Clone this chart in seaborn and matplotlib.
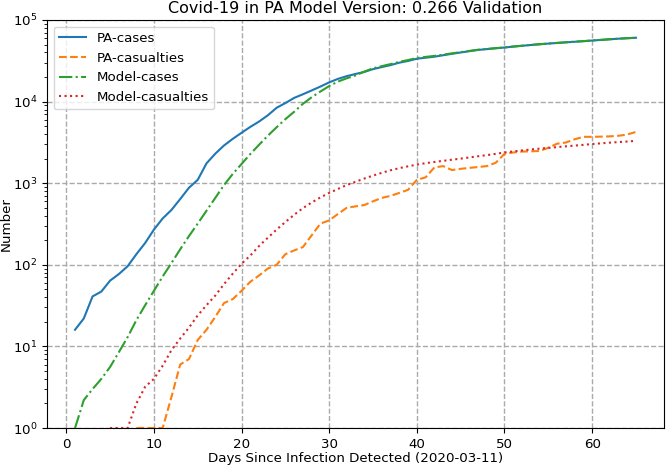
import matplotlib
matplotlib.use("Agg")
import matplotlib.pyplot as plt
import seaborn as sns
import pandas as pd

# PA reported cases, days 1..65
pa_cases_days = list(range(1, 66))
pa_cases = [
    16, 22, 41, 47, 64, 77, 96, 135, 185, 270,
    370, 470, 640, 880, 1100, 1750, 2300, 2900, 3500, 4150,
    4900, 5700, 6800, 8400, 9600, 11100, 12300, 13700, 15300, 17200,
    19000, 20500, 21800, 23100, 25000, 26500, 28000, 30000, 31500, 33500,
    34500, 35500, 37000, 38500, 40000, 41500, 43000, 44000, 45000, 46000,
    47200, 48300, 49400, 50400, 51400, 52300, 53200, 54100, 55000, 56000,
    57000, 58000, 59000, 59800, 60600,
]

# PA reported casualties, days 8..65
pa_deaths_days = list(range(8, 66))
pa_deaths = [
    1, 1, 1, 1, 2.4, 6, 7, 12, 16, 23,
    34, 38, 48, 62, 74, 90, 100, 135, 150, 165,
    230, 320, 350, 420, 500, 520, 540, 600, 660, 700,
    760, 830, 1100, 1180, 1560, 1620, 1450, 1500, 1540, 1580,
    1620, 1780, 2290, 2380, 2440, 2460, 2480, 2720, 3050, 3150,
    3450, 3700, 3700, 3720, 3750, 3810, 3950, 4250,
]

# model cases, days 1..65
model_cases_days = list(range(1, 66))
model_cases = [
    1, 2.2, 3.0, 4.0, 5.6, 8.5, 13, 21, 32, 48,
    72, 105, 155, 225, 320, 460, 660, 950, 1300, 1720,
    2280, 2960, 3820, 4850, 6100, 7500, 9400, 11300, 13300, 15500,
    17600, 19300, 20900, 23300, 25600, 27200, 28800, 30700, 32300, 34200,
    35300, 36300, 37600, 39000, 40400, 41800, 43200, 44200, 45200, 46100,
    47300, 48400, 49500, 50500, 51500, 52400, 53300, 54200, 55100, 56100,
    57100, 58100, 59000, 59800, 60600,
]

# model casualties, days 5..65
model_deaths_days = list(range(5, 66))
model_deaths = [
    1, 1, 1, 2, 3.2, 4, 5.8, 9, 12.5, 17,
    24, 32, 42, 58, 78, 103, 130, 170, 215, 270,
    335, 410, 495, 580, 670, 760, 850, 950, 1040, 1140,
    1240, 1340, 1440, 1530, 1610, 1690, 1760, 1820, 1880, 1940,
    2000, 2070, 2140, 2210, 2290, 2380, 2450, 2520, 2590, 2650,
    2710, 2770, 2830, 2890, 2950, 3020, 3080, 3140, 3190, 3240,
    3300,
]

series = [
    ("PA-cases", pa_cases_days, pa_cases, "#1f77b4", "-"),
    ("PA-casualties", pa_deaths_days, pa_deaths, "#ff7f0e", "--"),
    ("Model-cases", model_cases_days, model_cases, "#2ca02c", "-."),
    ("Model-casualties", model_deaths_days, model_deaths, "#d62728", ":"),
]

plt.rcParams["font.size"] = 9.6

fig, ax = plt.subplots(figsize=(6.66, 4.65), dpi=100)

for name, days, vals, color, ls in series:
    df = pd.DataFrame({"day": days, "value": vals})
    sns.lineplot(data=df, x="day", y="value", ax=ax, label=name,
                 color=color, linestyle=ls, linewidth=1.5)

ax.set_yscale("log")
ax.set_ylim(1, 1e5)
ax.set_xlim(-2.2, 68.2)
ax.grid(True, linestyle="--", color="#aaaaaa", linewidth=1)
ax.set_title("Covid-19 in PA Model Version: 0.266 Validation", fontsize=11.5, pad=5)
ax.set_xlabel("Days Since Infection Detected (2020-03-11)", labelpad=1)
ax.set_ylabel("Number", labelpad=0)
ax.legend(loc="upper left")

fig.subplots_adjust(left=47 / 666, right=664 / 666, top=1 - 20 / 465, bottom=1 - 428 / 465)
fig.savefig("out.png", dpi=100)
